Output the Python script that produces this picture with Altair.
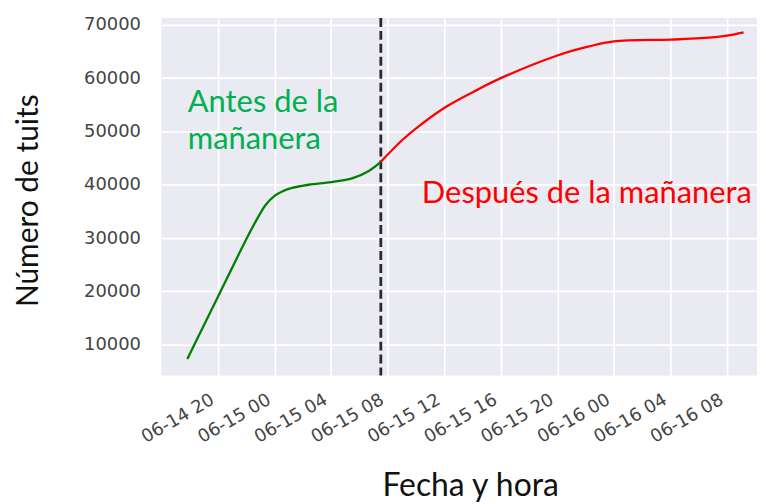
import altair as alt
import pandas as pd

# Curve readings (time, tweets)
before_times = ["2020-06-14T17:50:00", "2020-06-14T20:00:00", "2020-06-14T21:00:00",
                "2020-06-14T22:05:00", "2020-06-14T22:54:00", "2020-06-14T23:22:00",
                "2020-06-15T00:00:00", "2020-06-15T00:30:00", "2020-06-15T01:14:00",
                "2020-06-15T02:25:00", "2020-06-15T04:00:00", "2020-06-15T05:29:00",
                "2020-06-15T06:40:00", "2020-06-15T07:31:00"]
before_values = [7300, 19000, 24400, 30200, 34200, 36200, 37900, 38700, 39400,
                 40000, 40500, 41200, 42600, 44300]

after_times = ["2020-06-15T07:31:00", "2020-06-15T09:00:00", "2020-06-15T10:10:00",
               "2020-06-15T12:03:00", "2020-06-15T14:24:00", "2020-06-15T16:00:00",
               "2020-06-15T20:00:00", "2020-06-15T22:10:00", "2020-06-16T00:00:00",
               "2020-06-16T04:00:00", "2020-06-16T06:07:00", "2020-06-16T08:00:00",
               "2020-06-16T09:10:00"]
after_values = [44300, 48300, 50900, 54500, 57900, 60000, 64250, 65900, 66900, 67250, 67500, 68000, 68600]

segments = ["Antes", "Después"]
segment_colors = ["#008000", "#ff0000"]

split_time = ["2020-06-15T07:31:00"]

tick_times = ["2020-06-14T20:00:00", "2020-06-15T00:00:00", "2020-06-15T04:00:00",
              "2020-06-15T08:00:00", "2020-06-15T12:00:00", "2020-06-15T16:00:00",
              "2020-06-15T20:00:00", "2020-06-16T00:00:00", "2020-06-16T04:00:00",
              "2020-06-16T08:00:00"]
y_ticks = [10000, 20000, 30000, 40000, 50000, 60000, 70000]
x_domain = ["2020-06-14T16:00:00", "2020-06-16T10:07:00"]
y_domain = [4200, 71300]

label_texts = ["Antes de la", "mañanera", "Después de la mañanera"]
label_times = ["2020-06-14T17:52:00", "2020-06-14T17:52:00", "2020-06-15T10:25:00"]
label_values = [53650, 46800, 36510]
label_colors = ["#00b050", "#00b050", "#ff0000"]

df = pd.DataFrame({
    "t": before_times + after_times,
    "v": before_values + after_values,
    "seg": [segments[0]] * len(before_times) + [segments[1]] * len(after_times),
})
df_split = pd.DataFrame({"t": split_time})
df_lab = pd.DataFrame({"t": label_times, "v": label_values, "txt": label_texts, "c": label_colors})

title_font = "Lato"
tick_font = "DejaVu Sans"

x_enc = alt.X("t:T",
              scale=alt.Scale(domain=x_domain, nice=False),
              axis=alt.Axis(values=tick_times, format="%m-%d %H", labelAngle=-30,
                            labelAlign="right", labelBaseline="top", labelPadding=15,
                            labelOffset=-10, labelFont=tick_font, labelFontSize=18,
                            labelColor="#444444", ticks=False, domain=False,
                            gridColor="white", gridWidth=1.7, title="Fecha y hora",
                            titleFont=title_font, titleFontSize=32, titleFontWeight="normal",
                            titleColor="#111111", titleX=310, titleY=120,
                            titleAlign="center", titleBaseline="alphabetic",
                            labelOverlap=False))
y_enc = alt.Y("v:Q",
              scale=alt.Scale(domain=y_domain, nice=False, zero=False),
              axis=alt.Axis(values=y_ticks, format="d", labelFont=tick_font, labelFontSize=18,
                            labelColor="#444444", labelPadding=21, ticks=False, domain=False,
                            gridColor="white", gridWidth=1.7, title="Número de tuits",
                            titleFont=title_font, titleFontSize=30, titleFontWeight="normal",
                            titleColor="#111111", titleX=-124, titleY=183, titleAngle=-90,
                            titleAlign="center", titleBaseline="alphabetic"))

line = alt.Chart(df).mark_line(strokeWidth=2.3, interpolate="catmull-rom").encode(
    x=x_enc, y=y_enc,
    color=alt.Color("seg:N", scale=alt.Scale(domain=segments, range=segment_colors), legend=None),
)

rule = alt.Chart(df_split).mark_rule(color="#2a2a2a", strokeWidth=2.8, strokeDash=[9, 4]).encode(
    x="t:T"
)

labels = alt.Chart(df_lab).mark_text(align="left", baseline="alphabetic", font=title_font,
                                     fontSize=31).encode(
    x="t:T", y="v:Q", text="txt:N",
    color=alt.Color("c:N", scale=None),
)

chart = alt.layer(rule, line, labels).properties(
    width=598, height=359,
    autosize=alt.AutoSizeParams(type="none"),
    padding={"left": 154, "top": 9, "right": 0, "bottom": 128},
).configure_view(fill="#eaeaf2", stroke=None)

chart.save("out.html", embed_options={"renderer": "svg", "actions": False})
